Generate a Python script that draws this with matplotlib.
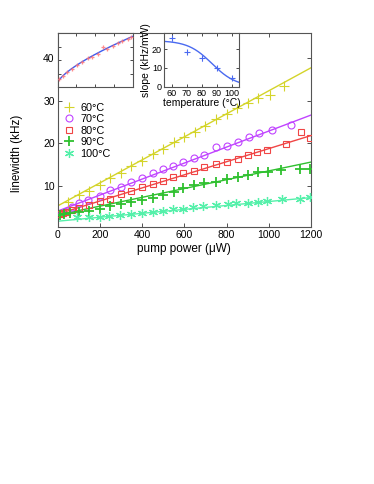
import numpy as np
import matplotlib
matplotlib.use("Agg")
import matplotlib.pyplot as plt
from matplotlib.lines import Line2D

plt.rcParams['font.family'] = ['Liberation Sans', 'DejaVu Sans']

# ---------------- data ----------------
labels = ["60°C", "70°C", "80°C", "90°C", "100°C"]
colors = ["#d4d42a", "#c043ff", "#f04545", "#2fc02f", "#55f0aa"]

x60 = [50, 100, 150, 200, 250, 300, 350, 400, 450, 500, 550, 600, 650, 700,
       750, 800, 850, 900, 950, 1005, 1070]
y60 = [6.3, 8.0, 9.0, 10.2, 12.0, 13.1, 14.8, 16.0, 17.6, 18.6, 20.3, 21.4,
       22.7, 24.2, 25.8, 27.0, 28.3, 29.5, 30.7, 31.4, 33.5]

x70 = [20, 45, 70, 100, 145, 200, 250, 300, 350, 400, 450, 500, 545, 595,
       645, 695, 750, 800, 855, 905, 955, 1015, 1105]
y70 = [3.8, 4.2, 5.1, 6.0, 6.8, 7.7, 9.1, 9.8, 10.9, 11.9, 13.0, 14.0, 14.8,
       15.7, 16.6, 17.4, 19.1, 19.3, 20.3, 21.5, 22.4, 23.1, 24.4]

x80 = [10, 25, 45, 70, 100, 150, 200, 250, 300, 350, 400, 450, 500, 545, 595,
       645, 695, 750, 800, 855, 900, 945, 990, 1080, 1155, 1195]
y80 = [3.6, 3.8, 4.0, 4.5, 5.0, 5.7, 6.5, 7.1, 8.1, 8.9, 9.8, 10.5, 11.2,
       12.2, 13.1, 13.6, 14.5, 15.3, 15.7, 16.4, 17.2, 18.0, 18.5, 19.8, 22.6, 21.2]

x90 = [10, 30, 60, 100, 150, 200, 250, 300, 350, 400, 450, 500, 550, 595, 645,
       695, 750, 800, 855, 900, 950, 995, 1060, 1150, 1195]
y90 = [3.4, 3.6, 3.8, 4.0, 4.2, 4.8, 5.3, 5.8, 6.4, 6.9, 7.3, 7.9, 8.6, 9.5,
       10.2, 10.8, 11.0, 11.8, 12.2, 12.6, 13.3, 13.3, 13.9, 14.1, 14.1]

x100 = [90, 150, 200, 245, 295, 350, 400, 450, 500, 545, 595, 640, 690, 750,
        805, 845, 900, 950, 990, 1065, 1150, 1195]
y100 = [2.9, 2.9, 2.9, 3.0, 3.4, 3.6, 3.8, 4.0, 4.3, 4.6, 4.8, 5.2, 5.3, 5.6,
        5.9, 6.0, 6.2, 6.4, 6.6, 7.0, 7.1, 7.4]

# linear fits: intercept (kHz), slope (kHz/mW)
fit_intercept = [5.4, 4.2, 3.5, 3.3, 1.85]
fit_slope = [26.9, 18.7, 15.3, 10.3, 4.6]

# inset 2: slope vs temperature
temps = [60, 70, 80, 90, 100]
slopes = [25.8, 18.2, 15.0, 10.1, 4.5]
slope_err = [1.3, 0.9, 1.3, 0.7, 1.0]
# logistic fit parameters: A, T0, w
sig_A, sig_T0, sig_w = 24.5, 87.0, 8.0

# inset 1: normalized data and fit
in1_x = [0.02, 0.07, 0.13, 0.19, 0.26, 0.33, 0.40, 0.46, 0.53, 0.60, 0.66,
         0.73, 0.80, 0.86, 0.93, 0.98]
in1_y = [0.14, 0.20, 0.27, 0.33, 0.40, 0.46, 0.54, 0.56, 0.62, 0.74, 0.71,
         0.76, 0.82, 0.85, 0.89, 0.93]
in1_a, in1_b, in1_p = 0.07, 0.87, 0.7

xs = [x60, x70, x80, x90, x100]
ys = [y60, y70, y80, y90, y100]
markers = ['+', 'o', 's', '+', (6, 2, 0)]
msizes = [7, 5, 4.2, 7, 6.5]
mews = [0.8, 0.8, 0.8, 1.3, 0.9]

# ---------------- figure ----------------
W, H = 374, 484
fig = plt.figure(figsize=(W / 100, H / 100), dpi=100)

def rect(x0, y0, x1, y1):
    return [x0 / W, 1 - y1 / H, (x1 - x0) / W, (y1 - y0) / H]

ax = fig.add_axes(rect(57.5, 33, 311, 227))
for sp in ax.spines.values():
    sp.set_color('#555555')
    sp.set_linewidth(0.8)

xline = np.array([0, 1200])
for i in range(5):
    ax.plot(xline, fit_intercept[i] + fit_slope[i] * xline / 1000.0,
            color=colors[i], lw=1.0, zorder=2)
    ax.plot(xs[i], ys[i], linestyle='none', marker=markers[i],
            ms=msizes[i], mew=mews[i], mfc='none', mec=colors[i],
            color=colors[i], zorder=3)

ax.set_xlim(0, 1200)
ax.set_ylim(0.5, 45.8)
ax.set_xticks([0, 200, 400, 600, 800, 1000, 1200])
ax.set_yticks([10, 20, 30, 40])
ax.tick_params(direction='in', length=3, width=0.6, labelsize=7.5,
               top=True, right=True, pad=2, colors='#333333', labelcolor='black')
ax.set_xlabel("pump power (μW)", fontsize=8.5, labelpad=2)
ax.set_ylabel("linewidth (kHz)", fontsize=8.5, labelpad=3)
ax.yaxis.set_label_coords(-0.135, 0.38)

handles = [Line2D([], [], linestyle='none', marker=markers[i], ms=msizes[i],
                  mew=mews[i], mfc='none', mec=colors[i]) for i in range(5)]
leg = ax.legend(handles, labels, loc='upper left', frameon=False,
                bbox_to_anchor=(-0.012, 0.68), fontsize=7.8, handlelength=1.2,
                handletextpad=0.5, labelspacing=0.14, borderaxespad=0.3)

# ---------------- inset 1 ----------------
ax1 = fig.add_axes(rect(57.5, 33, 133, 87))
xx = np.linspace(0, 1, 200)
ax1.plot(xx, in1_a + in1_b * xx ** in1_p, color='#3c5cf0', lw=1.0, zorder=2)
ax1.plot(in1_x, in1_y, linestyle='none', marker='+', ms=3.5, mew=0.9,
         color='#ff6f6f', alpha=0.8, zorder=3)
ax1.set_xlim(0, 1)
ax1.set_ylim(0, 1)
ax1.set_xticks([0.25, 0.5, 0.75])
ax1.set_yticks([0.25, 0.5, 0.75])
ax1.tick_params(direction='in', length=2, width=0.5, labelbottom=False,
                labelleft=False, top=True, right=True)
for sp in ax1.spines.values():
    sp.set_color('#555555')
    sp.set_linewidth(0.8)

# ---------------- inset 2 ----------------
ax2 = fig.add_axes(rect(164, 33, 239, 86.7))
tt = np.linspace(55, 105, 200)
ax2.plot(tt, sig_A / (1 + np.exp((tt - sig_T0) / sig_w)), color='#4a6af0',
         lw=1.0)
ax2.errorbar(temps, slopes, yerr=slope_err, fmt='+', color='#4a6af0',
             ms=4, mew=0.8, elinewidth=0.7, capsize=0)
ax2.set_xlim(55, 105)
ax2.set_ylim(0, 28.5)
ax2.set_xticks([60, 70, 80, 90, 100])
ax2.set_yticks([0, 10, 20])
ax2.tick_params(direction='in', length=2, width=0.5, labelsize=6.5, pad=1.5,
                top=True, right=True)
ax2.set_xlabel("temperature (°C)", fontsize=7.5, labelpad=0)
ax2.set_ylabel("slope (kHz/mW)", fontsize=7.5, labelpad=1)
for sp in ax2.spines.values():
    sp.set_color('#555555')
    sp.set_linewidth(0.8)

fig.savefig("out.png", dpi=100)
